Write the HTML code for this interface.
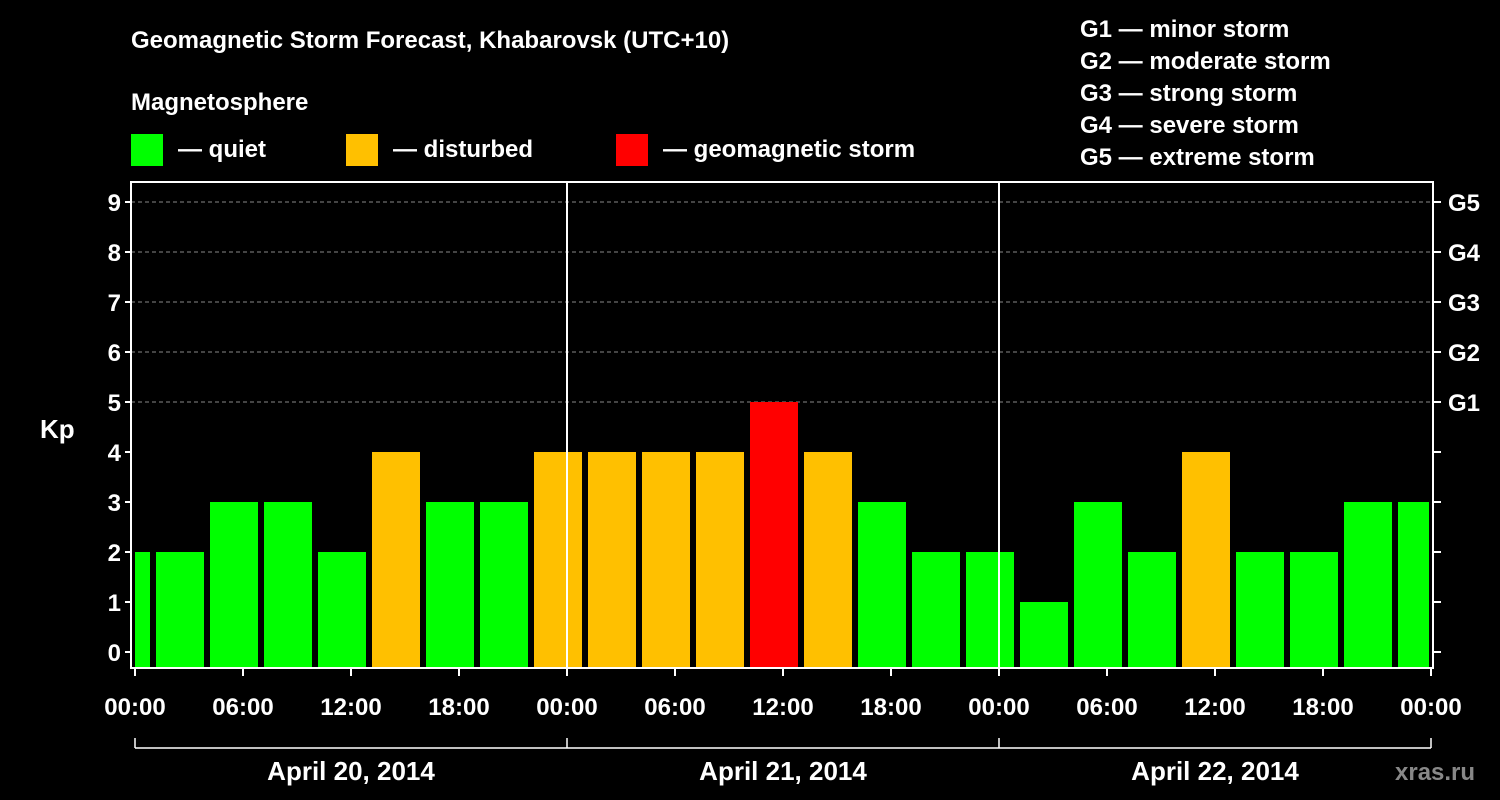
<!DOCTYPE html>
<html><head><meta charset="utf-8"><style>
body{margin:0;background:#000;width:1500px;height:800px;overflow:hidden}
svg{display:block}
text{font-family:"Liberation Sans",Arial,sans-serif;font-weight:bold;fill:#fff}
</style></head><body>
<svg id="chart" width="1500" height="800">
<text x="131" y="48" font-size="24">Geomagnetic Storm Forecast, Khabarovsk (UTC+10)</text>
<text x="131" y="110" font-size="24">Magnetosphere</text>
<g><rect x="131" y="134" width="32" height="32" fill="#00ff00"/><text x="178" y="157" font-size="24">— quiet</text></g>
<g><rect x="346" y="134" width="32" height="32" fill="#ffc000"/><text x="393" y="157" font-size="24">— disturbed</text></g>
<g><rect x="616" y="134" width="32" height="32" fill="#ff0000"/><text x="663" y="157" font-size="24">— geomagnetic storm</text></g>
<g font-size="24">
<text x="1080" y="37">G1 — minor storm</text><text x="1080" y="69">G2 — moderate storm</text><text x="1080" y="101">G3 — strong storm</text><text x="1080" y="133">G4 — severe storm</text><text x="1080" y="165">G5 — extreme storm</text></g>
<text x="40" y="438" font-size="26">Kp</text>
<g id="grid"></g><g id="bars"></g><g id="axes"></g>
<text x="1395" y="780" font-size="24" fill="#888" style="fill:#888">xras.ru</text>
</svg>
<script>
const kpValues=[2,2,3,3,2,4,3,3,4,4,4,4,5,4,3,2,2,1,3,2,4,2,2,3,3];
const yTicks=[0,1,2,3,4,5,6,7,8,9];
const gLabels=["G1","G2","G3","G4","G5"];
const timeLabels=["00:00","06:00","12:00","18:00","00:00","06:00","12:00","18:00","00:00","06:00","12:00","18:00","00:00"];
const dayLabels=["April 20, 2014","April 21, 2014","April 22, 2014"];
const NS="http://www.w3.org/2000/svg";
const L=131,R=1433,T=182,B=668,X0=135,HOUR=18;
const y=v=>652-50*v;
const xh=h=>X0+h*HOUR;
function mk(tag,attrs,parent,txt){const e=document.createElementNS(NS,tag);for(const k in attrs)e.setAttribute(k,attrs[k]);if(txt!==undefined)e.textContent=txt;parent.appendChild(e);return e;}
const grid=document.getElementById('grid'),bars=document.getElementById('bars'),axes=document.getElementById('axes');
for(let v=5;v<=9;v++){const l=mk('line',{x1:L,x2:R,y1:y(v),y2:y(v),stroke:'#888','stroke-dasharray':'4,3','stroke-width':1},grid);

}
kpValues.forEach((v,i)=>{
 let s=xh(1+3*(i-1))+3,e=s+48;
 s=Math.max(s,X0);e=Math.min(e,xh(72)-2);
 const c=v>=5?'#ff0000':v>=4?'#ffc000':'#00ff00';
 const r=mk('rect',{x:s,y:y(v),width:e-s,height:B-y(v),fill:c},bars);
 
 
});
const frame=mk('rect',{x:L,y:T,width:R-L,height:B-T,fill:'none',stroke:'#fff','stroke-width':2},axes);


[24,48].forEach(h=>{const l=mk('line',{x1:xh(h),x2:xh(h),y1:T,y2:B,stroke:'#fff','stroke-width':2},axes);

});
yTicks.forEach(v=>{
 mk('line',{x1:L-6,x2:L,y1:y(v),y2:y(v),stroke:'#fff','stroke-width':2},axes);
 mk('line',{x1:R,x2:R+8,y1:y(v),y2:y(v),stroke:'#fff','stroke-width':2},axes);
 const t=mk('text',{x:L-10,y:y(v)+9,'font-size':24,'text-anchor':'end'},axes,String(v));
 
 
});
gLabels.forEach((g,i)=>{const t=mk('text',{x:1448,y:y(5+i)+9,'font-size':24},axes,g);

});
timeLabels.forEach((s,i)=>{const x=xh(i*6);
 mk('line',{x1:x,x2:x,y1:B,y2:B+8,stroke:'#fff','stroke-width':2},axes);
 const t=mk('text',{x:x,y:715,'font-size':24,'text-anchor':'middle'},axes,s);
 
 });
mk('line',{x1:X0,x2:xh(72),y1:748,y2:748,stroke:'#fff','stroke-width':1.5},axes);
[0,24,48,72].forEach(h=>mk('line',{x1:xh(h),x2:xh(h),y1:738,y2:748,stroke:'#fff','stroke-width':1.5},axes));
dayLabels.forEach((d,i)=>{const t=mk('text',{x:xh(24*i+12),y:780,'font-size':26,'text-anchor':'middle'},axes,d);

});
</script>
</body></html>
